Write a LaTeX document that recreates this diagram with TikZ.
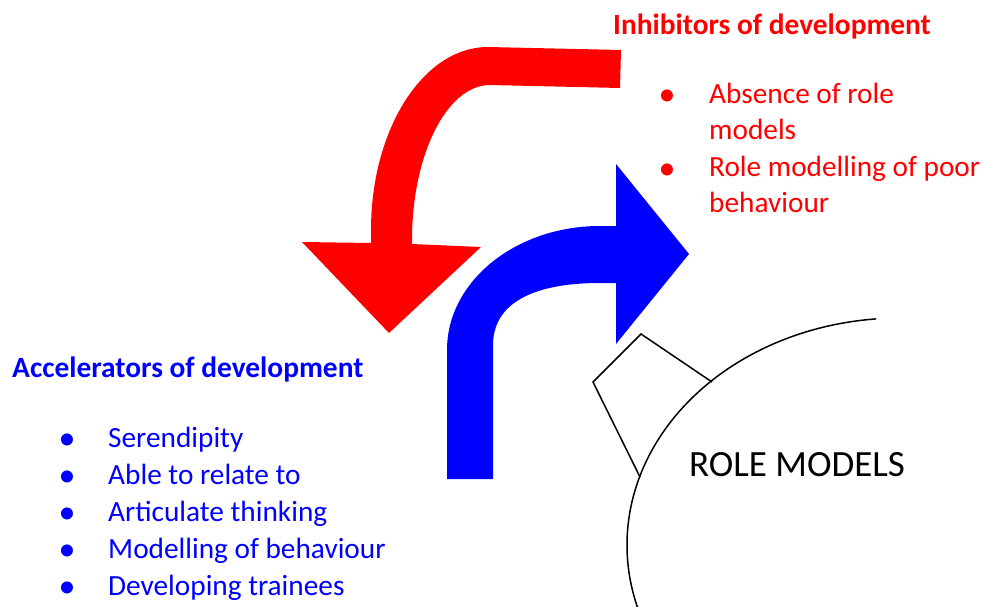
\documentclass[tikz,border=0pt]{standalone}
\usepackage{fontspec}
\setmainfont{Carlito}
\definecolor{myred}{RGB}{255,0,0}
\definecolor{myblue}{RGB}{0,0,255}
\begin{document}
\begin{tikzpicture}[x=1pt,y=1pt,
  body/.style={anchor=base west, inner sep=0pt, font=\fontsize{29.3}{35}\selectfont},
  head/.style={anchor=base west, inner sep=0pt, font=\fontsize{29.4}{35}\selectfont\bfseries},
  bul/.style={anchor=base, inner sep=0pt, font=\fontsize{34}{40}\selectfont},
  outline/.style={draw=black, line width=1.5pt, line join=miter}]
\useasboundingbox (0,0) rectangle (986,-607);
\clip (0,0) rectangle (986,-607);

% red arrow
\fill[myred] (621,-50) -- (620,-88) -- (490,-85)
  arc[start angle=90, end angle=180, x radius=78pt, y radius=155pt]
  -- (412,-244) -- (481,-247) -- (389,-333) -- (302,-242) -- (371,-243) -- (371,-230)
  arc[start angle=180, end angle=90, x radius=117pt, y radius=183pt]
  -- cycle;

% blue arrow
\fill[myblue] (447,-479) -- (493,-479) -- (493,-345)
  .. controls (493,-305) and (530,-283) .. (600,-283)
  -- (616,-283) -- (616,-344) -- (689,-254) -- (616,-164) -- (616,-226) -- (600,-226)
  arc[start angle=90, end angle=180, x radius=153pt, y radius=124pt]
  -- cycle;

% role model circle and kite
\coordinate (k1) at (712,-382);
\coordinate (k2) at (641,-334);
\coordinate (k3) at (593,-382);
\coordinate (k4) at (640,-477);
\draw[outline] (k1) -- (k2) -- (k3) -- (k4);
\draw[outline] (876.2,-318.9) arc[start angle=95, end angle=205, x radius=273pt, y radius=227pt];
\node[anchor=base west, inner sep=0pt, font=\fontsize{37}{44}\selectfont] (rm) at (689,-476) {ROLE MODELS};

% inhibitors
\node[head, text=myred] (inh) at (613,-35) {Inhibitors of development};
\node[bul, text=myred] (ib1) at (667,-106) {\textbullet};
\node[body, text=myred] (i1a) at (709,-104) {Absence of role};
\node[body, text=myred] (i1b) at (709,-140) {models};
\node[bul, text=myred] (ib2) at (667,-179) {\textbullet};
\node[body, text=myred] (i2a) at (709,-177) {Role modelling of poor};
\node[body, text=myred] (i2b) at (709,-213) {behaviour};

% accelerators
\node[head, text=myblue] (acc) at (12,-377) {Accelerators of development};
\foreach \t [count=\i] in {Serendipity, Able to relate to, Articulate thinking, Modelling of behaviour, Developing trainees} {
  \pgfmathsetmacro{\yy}{-447-37*(\i-1)}
  \node[bul, text=myblue] (ab\i) at (67,\yy-2) {\textbullet};
  \node[body, text=myblue] (a\i) at (108,\yy) {\t};
}
\end{tikzpicture}
\end{document}
